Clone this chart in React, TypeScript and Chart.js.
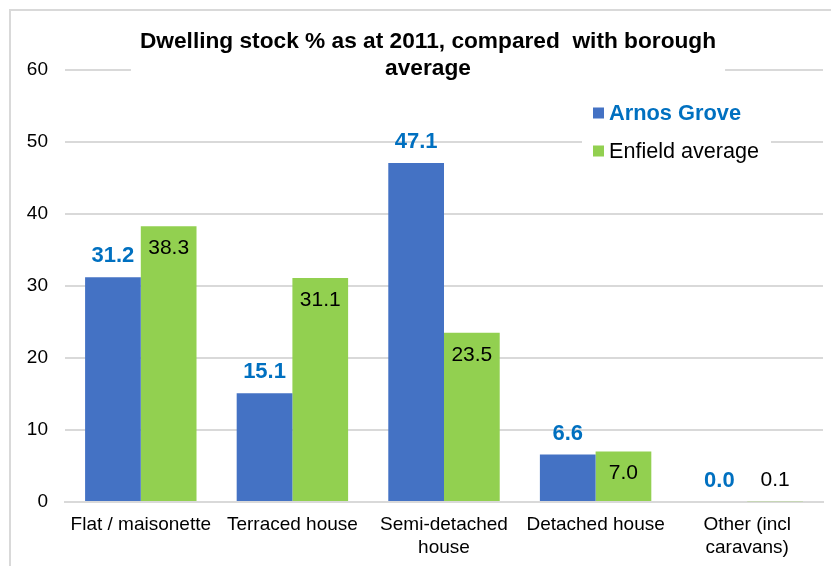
import React, { useEffect, useRef } from "react";
import { Chart, registerables } from "chart.js";

Chart.register(...registerables);

const categories: string[][] = [
  ["Flat / maisonette"],
  ["Terraced house"],
  ["Semi-detached", "house"],
  ["Detached house"],
  ["Other (incl", "caravans)"],
];
const arnosGrove = [31.2, 15.1, 47.1, 6.6, 0.0];
const enfieldAverage = [38.3, 31.1, 23.5, 7.0, 0.1];
const seriesNames = ["Arnos Grove", "Enfield average"];
const titleLines = ["Dwelling stock % as at 2011, compared  with borough", "average"];
const yMin = 0;
const yMax = 60;
const yStep = 10;

const FONT = "'Liberation Sans', Arial, Helvetica, sans-serif";
const BLUE = "#4472C4";
const GREEN = "#92D050";
const LABEL_BLUE = "#0070C0";
const GRID = "#D9D9D9";

const overlayPlugin = {
  id: "overlay",
  afterDatasetsDraw(chart: any) {
    const ctx = chart.ctx as CanvasRenderingContext2D;
    ctx.save();
    chart.data.datasets.forEach((ds: any, i: number) => {
      const meta = chart.getDatasetMeta(i);
      meta.data.forEach((bar: any, j: number) => {
        const { x, y, base } = bar.getProps(["x", "y", "base"], true);
        const v = ds.data[j] as number;
        const txt = v.toFixed(1);
        ctx.textAlign = "center";
        ctx.textBaseline = "middle";
        if (i === 0) {
          ctx.font = `bold 22px ${FONT}`;
          ctx.fillStyle = LABEL_BLUE;
          ctx.fillText(txt, x, y - 21);
        } else {
          ctx.font = `21px ${FONT}`;
          ctx.fillStyle = "#000";
          const inside = base - y > 40;
          ctx.fillText(txt, x, inside ? y + 22 : y - 21);
        }
      });
    });
    ctx.restore();
  },
  afterDraw(chart: any) {
    const ctx = chart.ctx as CanvasRenderingContext2D;
    ctx.save();
    const cx = 428;
    ctx.font = `bold 22.7px ${FONT}`;
    const w = ctx.measureText(titleLines[0]).width;
    ctx.fillStyle = "#fff";
    ctx.fillRect(cx - w / 2 - 9, 22, w + 18, 62);
    ctx.fillStyle = "#000";
    ctx.textAlign = "center";
    ctx.textBaseline = "middle";
    titleLines.forEach((line, k) => ctx.fillText(line, cx, 42 + k * 27));
    ctx.fillStyle = "#fff";
    ctx.fillRect(582, 95, 189, 75);
    const colors = [BLUE, GREEN];
    seriesNames.forEach((name, k) => {
      const cy = 113 + k * 38;
      ctx.fillStyle = colors[k];
      ctx.fillRect(593, cy - 5.5, 11, 11);
      ctx.textAlign = "left";
      ctx.textBaseline = "middle";
      if (k === 0) {
        ctx.font = `bold 21.8px ${FONT}`;
        ctx.fillStyle = LABEL_BLUE;
      } else {
        ctx.font = `21.6px ${FONT}`;
        ctx.fillStyle = "#000";
      }
      ctx.fillText(name, 609, cy + 1);
    });
    ctx.restore();
  },
};

export default function App() {
  const ref = useRef<HTMLCanvasElement | null>(null);

  useEffect(() => {
    document.body.style.margin = "0";
    const canvas = ref.current;
    if (!canvas) return;
    const chart = new Chart(canvas, {
      type: "bar",
      data: {
        labels: categories,
        datasets: [
          {
            label: seriesNames[0],
            data: arnosGrove,
            backgroundColor: BLUE,
            categoryPercentage: 0.735,
            barPercentage: 1.0,
          },
          {
            label: seriesNames[1],
            data: enfieldAverage,
            backgroundColor: GREEN,
            categoryPercentage: 0.735,
            barPercentage: 1.0,
          },
        ],
      },
      options: {
        responsive: false,
        animation: false,
        devicePixelRatio: 1,
        layout: { padding: { top: 70, right: 8, left: 0, bottom: 0 } },
        plugins: {
          legend: { display: false },
          title: { display: false },
          tooltip: { enabled: false },
        },
        scales: {
          y: {
            min: yMin,
            max: yMax,
            ticks: {
              stepSize: yStep,
              color: "#000",
              font: { family: FONT, size: 19 },
              padding: 17,
            },
            grid: { color: GRID, lineWidth: 2, drawTicks: false },
            border: { display: false },
            afterFit: (scale: any) => {
              scale.width = 65;
            },
          },
          x: {
            ticks: {
              color: "#000",
              font: { family: FONT, size: 19, lineHeight: 1.21 },
              padding: 11,
              maxRotation: 0,
              autoSkip: false,
            },
            grid: { display: false, drawTicks: false },
            border: { display: true, color: GRID, width: 2 },
            afterFit: (scale: any) => {
              scale.height = 64;
            },
          },
        },
      },
      plugins: [overlayPlugin],
    });
    return () => chart.destroy();
  }, []);

  return (
    <div
      style={{
        position: "fixed",
        left: 0,
        top: 0,
        width: 831,
        height: 566,
        overflow: "hidden",
        background: "#fff",
      }}
    >
      <div
        style={{
          position: "absolute",
          left: 9,
          top: 9,
          width: 900,
          height: 700,
          border: `2px solid ${GRID}`,
          boxSizing: "border-box",
        }}
      />
      <canvas
        ref={ref}
        width={831}
        height={566}
        style={{ position: "absolute", left: 0, top: 0, width: 831, height: 566 }}
      />
    </div>
  );
}
